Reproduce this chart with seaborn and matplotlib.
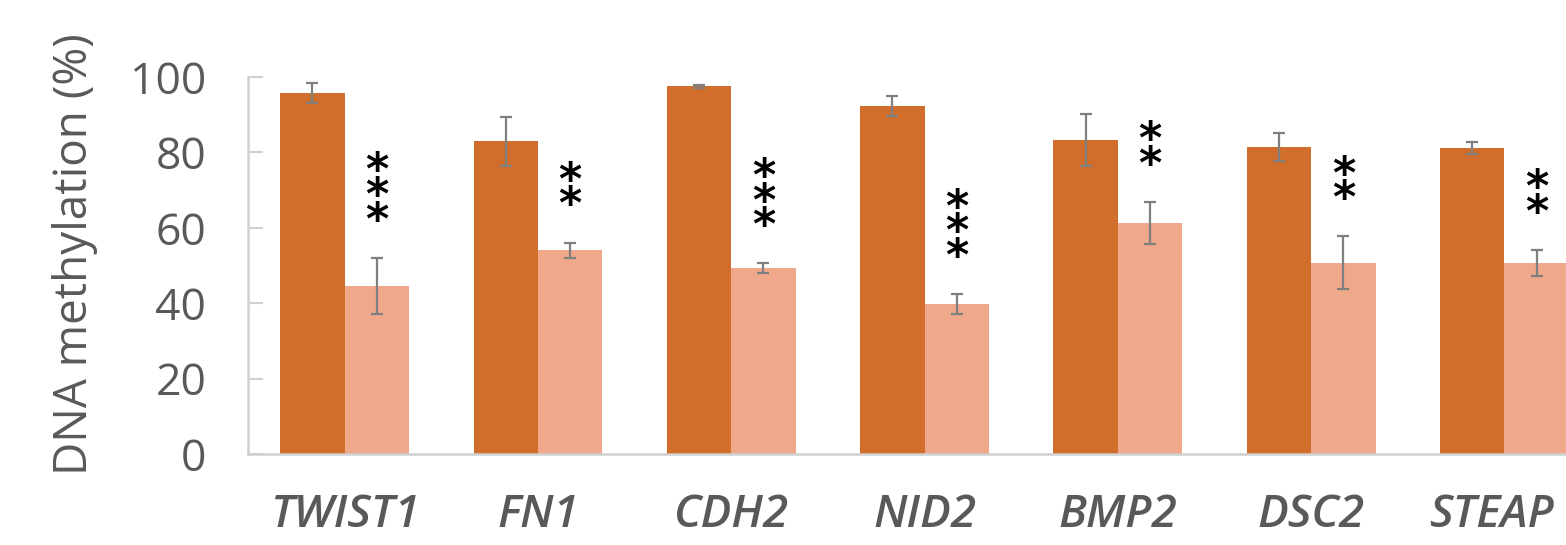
import matplotlib
matplotlib.use("Agg")
import matplotlib.pyplot as plt
import matplotlib.transforms as mtransforms
import seaborn as sns
import pandas as pd
import numpy as np

# Gene panel and methylation levels (%) for the two groups
genes = ["TWIST1", "FN1", "CDH2", "NID2", "BMP2", "DSC2", "STEAP"]
groups = ["Group A", "Group B"]
mean_a = [95.8, 83.0, 97.6, 92.3, 83.3, 81.4, 81.2]
err_a = [2.6, 6.5, 0.4, 2.6, 7.0, 3.7, 1.5]
mean_b = [44.6, 54.1, 49.3, 39.8, 61.3, 50.7, 50.7]
err_b = [7.5, 2.0, 1.3, 2.6, 5.5, 7.0, 3.5]
stars = ["***", "**", "***", "***", "**", "**", "**"]

dark, light = "#D26E2B", "#F0A88A"
grey_text = "#595959"

sns.set_theme(style="white")
plt.rcParams["font.family"] = ["Open Sans", "DejaVu Sans"]

df = pd.DataFrame({
    "gene": genes * 2,
    "group": [groups[0]] * len(genes) + [groups[1]] * len(genes),
    "value": mean_a + mean_b,
})

fig = plt.figure(figsize=(15.66, 5.45), dpi=100)
ax = fig.add_axes([248 / 1566, 91 / 545, (1601 - 248) / 1566, (468 - 91) / 545])

sns.barplot(data=df, x="gene", y="value", hue="group", order=genes,
            hue_order=groups, palette=[dark, light], width=2 / 3,
            errorbar=None, legend=False, linewidth=0, saturation=1, ax=ax)

# error bars and significance marks on the bar centres
n = len(genes)
bars = ax.patches
xa = [bars[i].get_x() + bars[i].get_width() / 2 for i in range(n)]
xb = [bars[n + i].get_x() + bars[n + i].get_width() / 2 for i in range(n)]
ax.errorbar(xa, mean_a, yerr=err_a, fmt="none", ecolor="#7F7F7F",
            elinewidth=1.6, capsize=4, capthick=1.6, clip_on=False, zorder=5)
ax.errorbar(xb, mean_b, yerr=err_b, fmt="none", ecolor="#7F7F7F",
            elinewidth=1.6, capsize=4, capthick=1.6, clip_on=False, zorder=5)

for x, m, e, s in zip(xb, mean_b, err_b, stars):
    ax.text(x, m + e + 4, "\n".join(s), ha="center", va="bottom",
            fontsize=32, fontweight="bold", color="black",
            linespacing=0.46, family="DejaVu Sans", clip_on=False)

ax.set_ylim(0, 100)
ax.set_xlim(-0.5, n - 0.5)
ax.set_yticks(range(0, 101, 20))
ax.set_xlabel("")
ax.set_ylabel("DNA methylation (%)", fontsize=33, color=grey_text)
ax.yaxis.set_label_coords(-0.111, 0.53)

ax.tick_params(axis="y", direction="in", length=11, width=1.5, color="#D0D0D0",
               labelsize=32, labelcolor=grey_text, pad=30, left=True)
ax.tick_params(axis="x", length=0, pad=28)
for lbl in ax.get_xticklabels():
    lbl.set_fontsize(33)
    lbl.set_fontweight("semibold")
    lbl.set_fontstyle("italic")
    lbl.set_color(grey_text)

# keep the last gene name inside the figure edge
last = ax.get_xticklabels()[-1]
last.set_transform(last.get_transform()
                   + mtransforms.ScaledTranslation(-0.13, 0, fig.dpi_scale_trans))

for side in ["top", "right"]:
    ax.spines[side].set_visible(False)
for side in ["left", "bottom"]:
    ax.spines[side].set_color("#D0D0D0")
    ax.spines[side].set_linewidth(1.8)

fig.savefig("out.png", dpi=100)
